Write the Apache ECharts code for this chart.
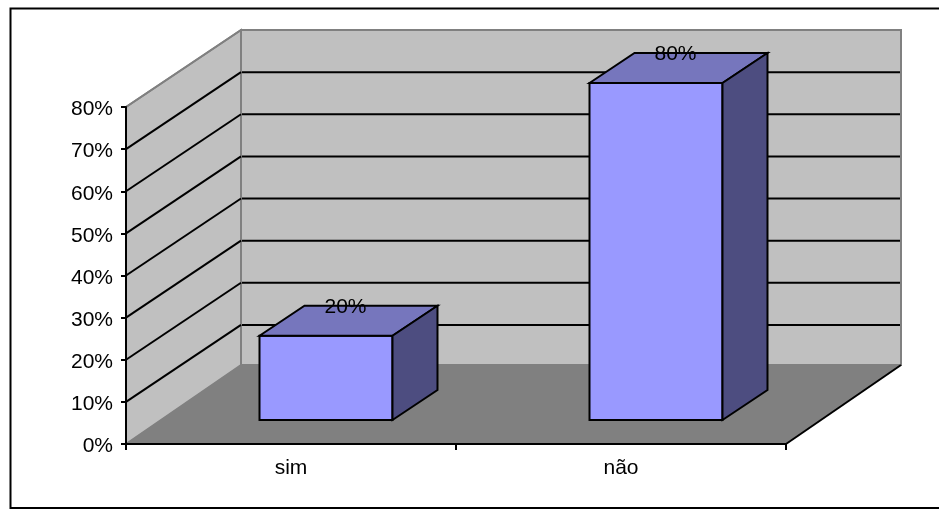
<!DOCTYPE html>
<html>
<head>
<meta charset="utf-8">
<style>html,body{margin:0;padding:0;background:#fff}#c{width:939px;height:509px}</style>
<script src="https://cdn.jsdelivr.net/npm/echarts@6/dist/echarts.min.js"></script>
</head>
<body>
<div id="c"></div>
<script>
// Survey answers, in percent
const categories = ['sim', 'não'];
const values = [20, 80];
const yTicks = [10, 20, 30, 40, 50, 60, 70, 80];

// Oblique projection of the box: pixels per full depth of the plot
const DEPTH = [115, -77];
const FLOOR_DEPTH = [115, -79];
// Where the column sits inside the depth (start and end, as pixel offsets)
const BAR_FRONT = [35, -24];
const BAR_BACK = [80, -54];
const BAR_SHARE = 0.403;
const LABEL_SHIFT_X = 54.5;

const FONT = '"Liberation Sans", Arial, sans-serif';
const shift = (p, d) => [p[0] + d[0], p[1] + d[1]];

const chart = echarts.init(document.getElementById('c'), null, { renderer: 'canvas' });

// Left end of the category axis, at a given value
function plotLeft(api, value) {
  const p = api.coord([0, value]);
  return [p[0] - api.size([1, 0])[0] / 2, p[1]];
}

// Back wall, side wall and floor of the box
function renderBox(params, api) {
  const n = categories.length;
  const band = api.size([1, 0])[0];
  const bl = plotLeft(api, 0);
  const tl = plotLeft(api, 80);
  const br = [bl[0] + band * n, bl[1]];
  const tr = [tl[0] + band * n, tl[1]];
  const edge = { stroke: '#808080', lineWidth: 2 };
  return {
    type: 'group',
    children: [
      { type: 'polygon', shape: { points: [shift(tl, DEPTH), shift(tr, DEPTH), shift(br, FLOOR_DEPTH), shift(bl, FLOOR_DEPTH)] },
        style: Object.assign({ fill: '#C0C0C0' }, edge) },
      { type: 'polygon', shape: { points: [tl, shift(tl, DEPTH), shift(bl, FLOOR_DEPTH), bl] },
        style: Object.assign({ fill: '#C0C0C0' }, edge) },
      { type: 'polygon', shape: { points: [bl, shift(bl, FLOOR_DEPTH), shift(br, FLOOR_DEPTH), br] },
        style: { fill: '#808080' } },
      { type: 'line', shape: { x1: br[0], y1: br[1], x2: br[0] + FLOOR_DEPTH[0], y2: br[1] + FLOOR_DEPTH[1] },
        style: { stroke: '#000', lineWidth: 2 } }
    ]
  };
}

// One gridline per tick, running along the side wall and across the back wall
function renderGridline(params, api) {
  const tickValue = api.value(0);
  const start = plotLeft(api, tickValue);
  const mid = shift(start, DEPTH);
  const end = [mid[0] + api.size([1, 0])[0] * categories.length - 1, mid[1]];
  const line = { stroke: '#000', lineWidth: 2 };
  // The top edge of the box is the wall outline, so the topmost tick keeps its grey
  if (tickValue >= 80) {
    return { type: 'line', shape: { x1: start[0], y1: start[1], x2: mid[0], y2: mid[1] },
      style: { stroke: '#808080', lineWidth: 2 } };
  }
  return {
    type: 'group',
    children: [
      { type: 'line', shape: { x1: start[0], y1: start[1], x2: mid[0], y2: mid[1] }, style: line },
      { type: 'line', shape: { x1: mid[0] + 1, y1: mid[1], x2: end[0], y2: end[1] }, style: line }
    ]
  };
}

// A column as three visible faces, with its value over the top face
function renderColumn(params, api) {
  const idx = api.value(0);
  const val = api.value(1);
  const centre = api.coord([idx, 0])[0];
  const half = api.size([1, 0])[0] * BAR_SHARE / 2;
  const y0 = api.coord([idx, 0])[1];
  const y1 = api.coord([idx, val])[1];
  const fl = [centre - half, y1], fr = [centre + half, y1], br = [centre + half, y0], bl = [centre - half, y0];
  const f = p => shift(p, BAR_FRONT);
  const b = p => shift(p, BAR_BACK);
  const outline = { stroke: '#000', lineWidth: 2, lineJoin: 'miter' };
  return {
    type: 'group',
    children: [
      { type: 'polygon', shape: { points: [f(fl), f(fr), f(br), f(bl)] },
        style: Object.assign({ fill: '#9999FF' }, outline) },
      { type: 'polygon', shape: { points: [f(fl), b(fl), b(fr), f(fr)] },
        style: Object.assign({ fill: '#7676BD' }, outline) },
      { type: 'polygon', shape: { points: [f(fr), b(fr), b(br), f(br)] },
        style: Object.assign({ fill: '#4D4D80' }, outline) },
      { type: 'text',
        style: { x: centre + LABEL_SHIFT_X, y: y1 + BAR_BACK[1] + 1,
          text: val + '%', fill: '#000', font: '21px ' + FONT, align: 'center', verticalAlign: 'middle' } }
    ]
  };
}

chart.setOption({
  animation: false,
  backgroundColor: '#fff',
  graphic: [{
    type: 'rect', silent: true, z: 0,
    shape: { x: 10.5, y: 8.5, width: 940, height: 499.5 },
    style: { fill: 'none', stroke: '#000', lineWidth: 2 }
  }],
  grid: { left: 126, top: 107, width: 660, height: 337, containLabel: false },
  xAxis: {
    type: 'category', data: categories, boundaryGap: true, z: 6,
    axisLine: { lineStyle: { color: '#000', width: 2 } },
    axisTick: { show: true, alignWithLabel: false, length: 6, lineStyle: { color: '#000', width: 2 } },
    axisLabel: { color: '#000', fontFamily: FONT, fontSize: 21, margin: 14 },
    splitLine: { show: false }
  },
  yAxis: {
    type: 'value', min: 0, max: 80, interval: 10, z: 6,
    axisLine: { show: true, lineStyle: { color: '#000', width: 2 } },
    axisTick: { show: true, length: 5, lineStyle: { color: '#000', width: 2 } },
    axisLabel: {
      color: '#000', fontFamily: FONT, fontSize: 21, margin: 13,
      formatter: '{v|{value}%}',
      rich: { v: { color: '#000', fontFamily: FONT, fontSize: 21, padding: [5, 0, 0, 0] } }
    },
    splitLine: { show: false }
  },
  series: [
    { type: 'custom', name: 'box', coordinateSystem: 'cartesian2d', z: 1, clip: false, silent: true,
      renderItem: renderBox, data: [[0, 0]], encode: { x: 0, y: 1 } },
    { type: 'custom', name: 'gridlines', coordinateSystem: 'cartesian2d', z: 2, clip: false, silent: true,
      renderItem: renderGridline, data: yTicks.map(t => [t]), encode: { y: 0 } },
    { type: 'custom', name: 'respostas', coordinateSystem: 'cartesian2d', z: 8, clip: false,
      renderItem: renderColumn, data: values.map((v, i) => [i, v]), encode: { x: 0, y: 1 } }
  ]
});
</script>
</body>
</html>
